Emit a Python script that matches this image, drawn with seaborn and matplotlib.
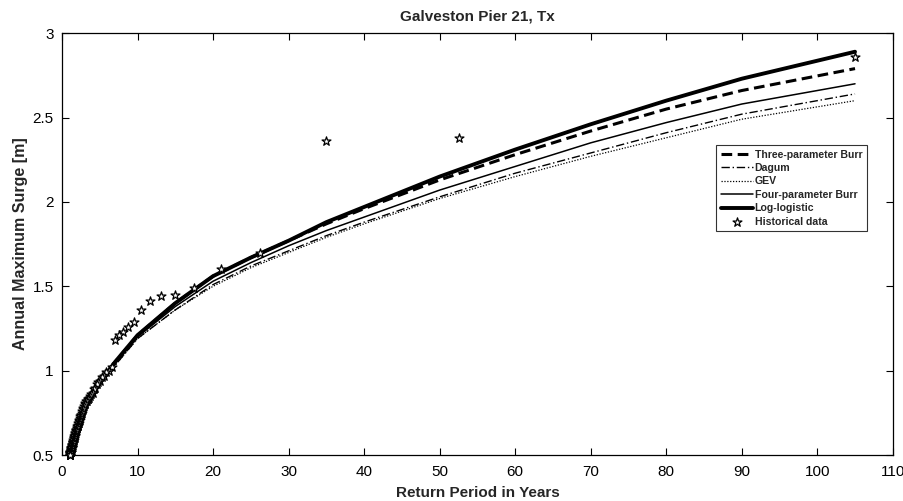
import numpy as np
import pandas as pd
import seaborn as sns
import matplotlib.pyplot as plt
from matplotlib.ticker import FuncFormatter

# fitted return level curves
years = [1, 1.5, 2, 3, 5, 7, 10, 15, 20, 25, 30, 35, 40, 50, 60, 70, 80, 90, 105]
log_logistic = [0.50, 0.58, 0.66, 0.79, 0.93, 1.05, 1.21, 1.40, 1.56, 1.67, 1.77,
                1.88, 1.97, 2.15, 2.31, 2.46, 2.60, 2.73, 2.89]
burr3 = [0.50, 0.58, 0.66, 0.79, 0.93, 1.05, 1.21, 1.40, 1.56, 1.67, 1.77,
         1.87, 1.96, 2.13, 2.28, 2.42, 2.55, 2.66, 2.79]
burr4 = [0.50, 0.58, 0.66, 0.79, 0.93, 1.04, 1.20, 1.38, 1.53, 1.64, 1.74,
         1.83, 1.91, 2.07, 2.21, 2.35, 2.47, 2.58, 2.70]
dagum = [0.50, 0.58, 0.66, 0.79, 0.93, 1.03, 1.19, 1.36, 1.51, 1.62, 1.71,
         1.80, 1.88, 2.03, 2.17, 2.29, 2.41, 2.52, 2.64]
gev = [0.50, 0.58, 0.66, 0.79, 0.93, 1.03, 1.19, 1.36, 1.50, 1.61, 1.70,
       1.79, 1.87, 2.02, 2.15, 2.27, 2.38, 2.49, 2.60]

# historical annual maxima (return period, surge)
hist_period = [105.00, 52.50, 35.00, 26.25, 21.00, 17.50, 15.00, 13.13, 11.67, 10.50,
               9.55, 8.75, 8.08, 7.50, 7.00, 6.56, 6.18, 5.83, 5.53, 5.25,
               5.00, 4.77, 4.57, 4.38, 4.20, 4.04, 3.89, 3.75, 3.62, 3.50,
               3.39, 3.28, 3.18, 3.09, 3.00, 2.92, 2.84, 2.76, 2.69, 2.63,
               2.56, 2.50, 2.44, 2.39, 2.33, 2.28, 2.23, 2.19, 2.14, 2.10,
               2.06, 2.02, 1.98, 1.94, 1.91, 1.88, 1.84, 1.81, 1.78, 1.75,
               1.72, 1.69, 1.67, 1.64, 1.62, 1.59, 1.57, 1.54, 1.52, 1.50,
               1.48, 1.46, 1.44, 1.42, 1.40, 1.38, 1.36, 1.35, 1.33, 1.31,
               1.30, 1.28, 1.27, 1.25, 1.24, 1.22, 1.21, 1.19, 1.18, 1.17,
               1.15, 1.14, 1.13, 1.12, 1.11, 1.09, 1.08, 1.07, 1.06, 1.05,
               1.04, 1.03, 1.02, 1.01]
hist_surge = [2.86, 2.38, 2.36, 1.70, 1.60, 1.49, 1.45, 1.44, 1.41, 1.36,
              1.29, 1.26, 1.23, 1.21, 1.18, 1.02, 1.00, 0.99, 0.97, 0.96,
              0.94, 0.93, 0.92, 0.90, 0.89, 0.87, 0.86, 0.85, 0.84, 0.83,
              0.83, 0.82, 0.82, 0.81, 0.80, 0.79, 0.78, 0.77, 0.76, 0.75,
              0.74, 0.74, 0.73, 0.72, 0.71, 0.71, 0.70, 0.69, 0.69, 0.68,
              0.67, 0.67, 0.66, 0.66, 0.65, 0.65, 0.64, 0.64, 0.63, 0.63,
              0.62, 0.62, 0.61, 0.61, 0.60, 0.60, 0.60, 0.59, 0.59, 0.58,
              0.58, 0.58, 0.57, 0.57, 0.57, 0.56, 0.56, 0.56, 0.55, 0.55,
              0.55, 0.55, 0.54, 0.54, 0.54, 0.54, 0.53, 0.53, 0.53, 0.53,
              0.52, 0.52, 0.52, 0.52, 0.52, 0.51, 0.51, 0.51, 0.51, 0.51,
              0.50, 0.50, 0.50, 0.50]

sns.set_style('ticks')
plt.rcParams['font.family'] = ['Liberation Sans', 'DejaVu Sans']

fig = plt.figure(figsize=(9.04, 5.01), dpi=100)
ax = fig.add_axes([0.0686, 0.0918, 0.919, 0.842])

curves = pd.DataFrame({'years': years})
sns.lineplot(x=curves['years'], y=burr3, ax=ax, color='black', lw=2.2,
             linestyle=(0, (3.5, 1.8)), label='Three-parameter Burr')
sns.lineplot(x=curves['years'], y=dagum, ax=ax, color='black', lw=1.0,
             linestyle=(0, (6, 2, 1, 2)), label='Dagum')
sns.lineplot(x=curves['years'], y=gev, ax=ax, color='black', lw=0.9,
             linestyle=(0, (1, 1.3)), label='GEV')
sns.lineplot(x=curves['years'], y=burr4, ax=ax, color='black', lw=1.1,
             label='Four-parameter Burr')
sns.lineplot(x=curves['years'], y=log_logistic, ax=ax, color='black', lw=2.8,
             label='Log-logistic')
sns.scatterplot(x=hist_period, y=hist_surge, ax=ax, marker='*', s=45,
                facecolor='white', edgecolor='black', linewidth=0.9,
                label='Historical data', clip_on=False, zorder=5)

ax.set_xlim(0, 110)
ax.set_ylim(0.5, 3)
ax.set_xticks(np.arange(0, 111, 10))
ax.set_yticks([0.5, 1, 1.5, 2, 2.5, 3])
ax.yaxis.set_major_formatter(FuncFormatter(lambda v, p: f'{v:g}'))
ax.tick_params(direction='in', length=5, width=0.8, labelsize=11,
               top=True, right=True, colors='black')
ax.tick_params(axis='x', pad=7)
ax.tick_params(axis='y', pad=6)
for s in ax.spines.values():
    s.set_visible(True)
    s.set_linewidth(0.9)
    s.set_color('black')

ax.set_title('Galveston Pier 21, Tx', fontsize=11, fontweight='bold', pad=9)
ax.set_xlabel('Return Period in Years', fontsize=11, fontweight='bold', labelpad=5)
ax.set_ylabel('Annual Maximum Surge [m]', fontsize=11.5, fontweight='bold', labelpad=3)

leg = ax.legend(loc='upper right', bbox_to_anchor=(0.969, 0.735),
                prop={'weight': 'bold', 'size': 7.6}, frameon=True, fancybox=False,
                edgecolor='black', handlelength=3.0, handletextpad=0.2,
                labelspacing=0.32, borderpad=0.45, borderaxespad=0)
leg.get_frame().set_linewidth(0.8)

fig.savefig('out.png', dpi=100)
